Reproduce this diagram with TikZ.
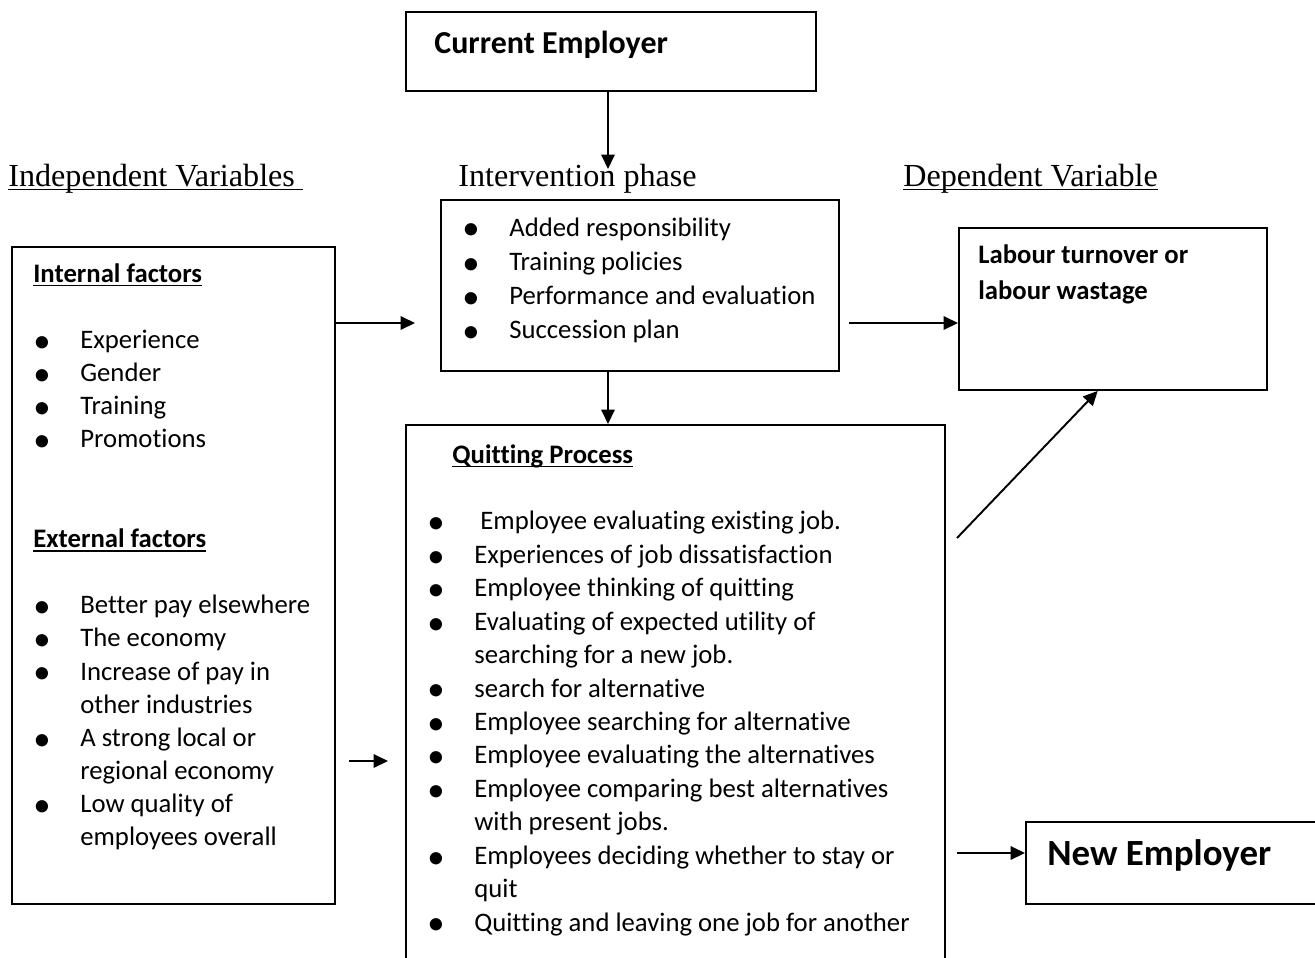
\documentclass[tikz,border=0pt]{standalone}
\usepackage{fontspec}
\setmainfont[Ligatures=NoCommon]{Carlito}
\newfontfamily\tnr{Liberation Serif}
\usetikzlibrary{arrows.meta,positioning,calc}

\newcommand\bul{\makebox[0.94cm][l]{\raisebox{-2.2pt}{\scalebox{1.3}{\textbullet}}}}
\newcommand\ind{\hspace*{0.94cm}}
\newcommand\undl[1]{\setbox0\hbox{#1}\rlap{\rule[-2.4pt]{\wd0}{0.8pt}}\box0}

\begin{document}
\begin{tikzpicture}[x=0.02cm, y=-0.02cm, inner sep=0pt,
    box/.style={draw, line width=1.1pt, anchor=north west},
    lst/.style={anchor=base west, font=\fontsize{15.2}{#1pt}\selectfont},
    hd/.style={anchor=base west, font=\tnr\fontsize{18.3}{22}\selectfont},
    arr/.style={line width=1.1pt, -{Triangle[length=0.29cm, width=0.27cm]}}]
    \useasboundingbox (0,0) rectangle (1315,957);
    \clip (0,0) rectangle (1315,957);

    % boxes
    \node (cur)  at (405, 11) [box, minimum width=8.2cm,  minimum height=1.58cm]  {};
    \node (intv) at (440,199) [box, minimum width=7.96cm, minimum height=3.42cm]  {};
    \node (fac)  at ( 11,246) [box, minimum width=6.46cm, minimum height=13.14cm] {};
    \node (lab)  at (958,227) [box, minimum width=6.16cm, minimum height=3.24cm]  {};
    \node (quit) at (405,424) [box, minimum width=10.78cm, minimum height=12cm]   {};
    \node (new)  at (1025,821) [box, minimum width=6.6cm, minimum height=1.64cm]  {};

    % headings
    \node (indT) at (8,186)   [hd] {\undl{Independent Variables\ }};
    \node (intT) at (458,186) [hd] {Intervention phase};
    \node (depT) at (903,186) [hd] {\undl{Dependent Variable}};

    % texts
    \node (curT) at (434,53)  [anchor=base west, font=\bfseries\fontsize{18.2}{22}\selectfont] {Current Employer};
    \node (newT) at (1047,865) [anchor=base west, font=\bfseries\fontsize{21}{25}\selectfont] {New Employer};
    \node (labT) at (978,263) [lst=20.6] {\begin{tabular}[t]{@{}l@{}}
        \textbf{Labour turnover or}\\ \textbf{labour wastage}\end{tabular}};
    \node (intL) at (462,236) [lst=19.45] {\begin{tabular}[t]{@{}l@{}}
        \bul Added responsibility\\
        \bul Training policies\\
        \bul Performance and evaluation\\
        \bul Succession plan\end{tabular}};
    \node (facL) at (33,282) [lst=18.88] {\begin{tabular}[t]{@{}l@{}}
        \undl{\textbf{Internal factors}}\\ \\
        \bul Experience\\
        \bul Gender\\
        \bul Training\\
        \bul Promotions\\ \\ \\
        \undl{\textbf{External factors}}\\ \\
        \bul Better pay elsewhere\\
        \bul The economy\\
        \bul Increase of pay in\\ \ind other industries\\
        \bul A strong local or\\ \ind regional economy\\
        \bul Low quality of\\ \ind employees overall\end{tabular}};
    \node (quitL) at (427,463) [lst=19.03] {\begin{tabular}[t]{@{}l@{}}
        \hspace*{0.5cm}\undl{\textbf{Quitting Process}}\\ \\
        \bul\ Employee evaluating existing job.\\
        \bul Experiences of job dissatisfaction\\
        \bul Employee thinking of quitting\\
        \bul Evaluating of expected utility of\\ \ind searching for a new job.\\
        \bul search for alternative\\
        \bul Employee searching for alternative\\
        \bul Employee evaluating the alternatives\\
        \bul Employee comparing best alternatives\\ \ind with present jobs.\\
        \bul Employees deciding whether to stay or\\ \ind quit\\
        \bul Quitting and leaving one job for another\end{tabular}};

    % connectors
    \coordinate (ctip) at (608,169);
    \coordinate (a1) at (415,323);
    \coordinate (e0) at (349,761);
    \coordinate (e1) at (388,761);
    \coordinate (b0) at (849,323);
    \coordinate (d0) at (957,538);
    \coordinate (n0) at (957,853);
    \draw [arr] (cur.south -| ctip) -- (ctip);
    \draw [arr] (intv.south -| ctip) -- (quit.north -| ctip);
    \draw [arr] (fac.east |- a1) -- (a1);
    \draw [arr] (e0) -- (e1);
    \draw [arr] (b0) -- (b0 -| lab.west);
    \draw [arr] (d0) -- ($(lab.south west)!0.451!(lab.south east)$);
    \draw [arr] (n0) -- (n0 -| new.west);
\end{tikzpicture}
\end{document}
